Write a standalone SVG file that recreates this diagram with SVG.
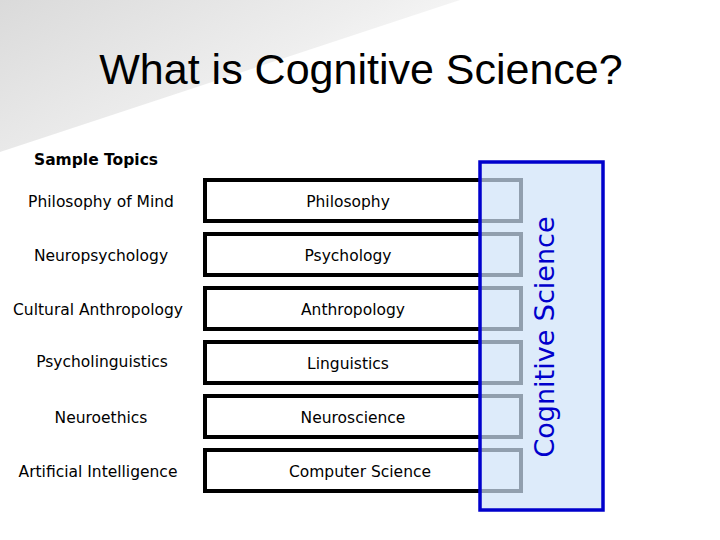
<svg xmlns="http://www.w3.org/2000/svg" width="720" height="540" viewBox="0 0 720 540">
<defs>
<linearGradient id="bg" x1="0" y1="0" x2="1" y2="0.6">
<stop offset="0" stop-color="#dadada"/><stop offset="0.6" stop-color="#eeeeee"/><stop offset="1" stop-color="#ffffff"/>
</linearGradient>
<style>
.box{fill:#fff;stroke:#000;stroke-width:4}
.t{font-family:"DejaVu Sans",Verdana,sans-serif;font-size:15.5px;text-anchor:middle;fill:#000}
</style>
</defs>
<rect width="720" height="540" fill="#fff"/>
<polygon points="0,0 460,0 0,152" fill="url(#bg)"/>
<text x="361" y="84" font-family="Liberation Sans,Arial,sans-serif" font-size="43" text-anchor="middle">What is Cognitive Science?</text>
<text x="34" y="165" font-family="DejaVu Sans,Verdana,sans-serif" font-size="15.5" font-weight="bold">Sample Topics</text>
<g id="n1"><rect class="box" x="205" y="180" width="316" height="41"/><text class="t" x="348" y="207">Philosophy</text><text class="t" x="101" y="207">Philosophy of Mind</text></g>
<g id="n2"><rect class="box" x="205" y="234" width="316" height="41"/><text class="t" x="348" y="261">Psychology</text><text class="t" x="101" y="261">Neuropsychology</text></g>
<g id="n3"><rect class="box" x="205" y="288" width="316" height="41"/><text class="t" x="353" y="315">Anthropology</text><text class="t" x="98" y="315">Cultural Anthropology</text></g>
<g id="n4"><rect class="box" x="205" y="342" width="316" height="41"/><text class="t" x="348" y="369">Linguistics</text><text class="t" x="102" y="367">Psycholinguistics</text></g>
<g id="n5"><rect class="box" x="205" y="396" width="316" height="41"/><text class="t" x="353" y="423">Neuroscience</text><text class="t" x="101" y="423">Neuroethics</text></g>
<g id="n6"><rect class="box" x="205" y="450" width="316" height="41"/><text class="t" x="360" y="477">Computer Science</text><text class="t" x="98" y="477">Artificial Intelligence</text></g>
<g id="cog"><rect x="480" y="162" width="123" height="348" fill="#cfe3f8" fill-opacity="0.7" stroke="#0000cc" stroke-width="3.5"/>
<text transform="translate(554,337) rotate(-90)" font-family="DejaVu Sans,Verdana,sans-serif" font-size="27" text-anchor="middle" fill="#0000cc">Cognitive Science</text></g>
<g id="connectors"/>
</svg>
